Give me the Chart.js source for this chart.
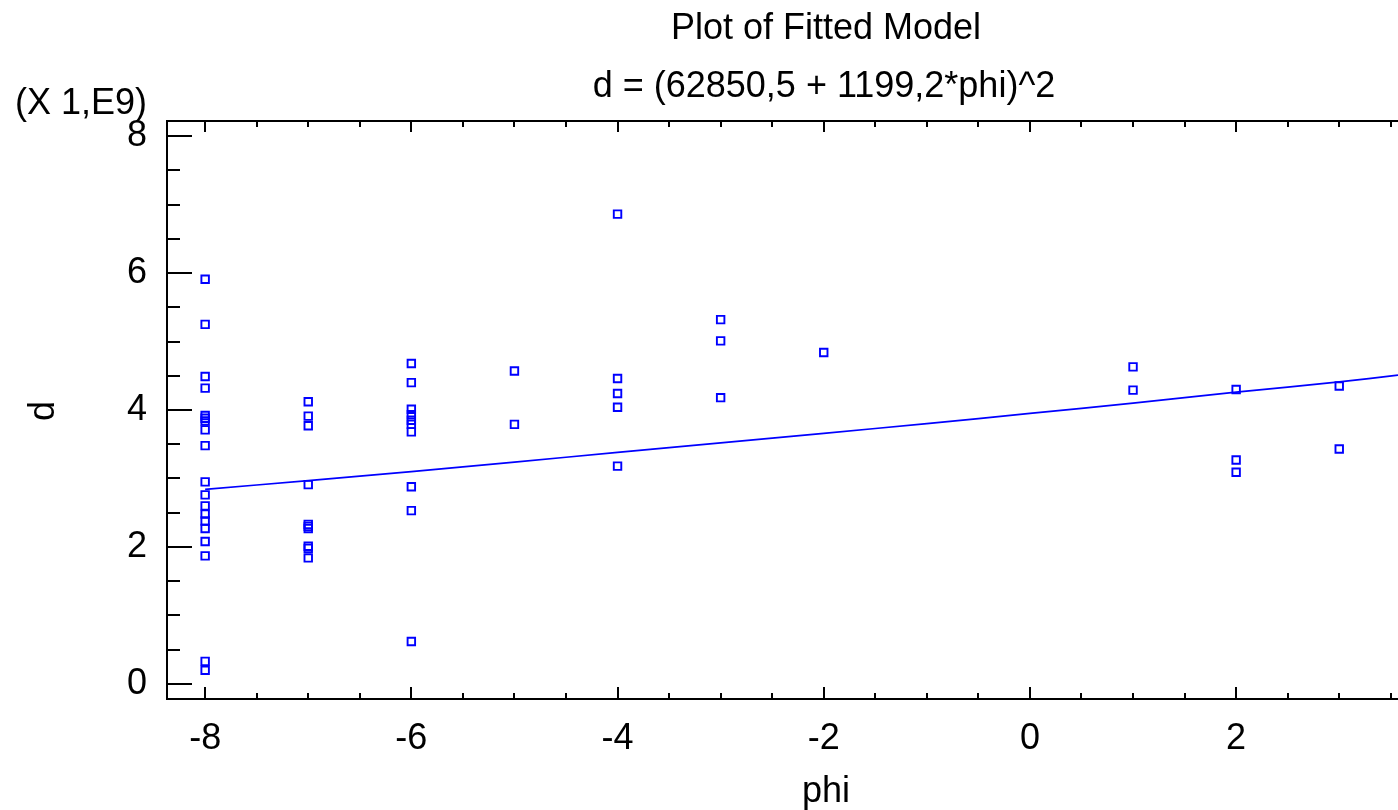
<!DOCTYPE html>
<html><head><meta charset="utf-8">
<script src="https://cdn.jsdelivr.net/npm/chart.js@4.4.0/dist/chart.umd.min.js"></script>
<style>html,body{margin:0;padding:0;background:#fff;overflow:hidden}#wrap{width:1398px;height:810px;position:relative}canvas{display:block}</style>
</head><body><div id="wrap"><canvas id="c" width="1398" height="810"></canvas></div>
<script>
const titleLines = ["Plot of Fitted Model", "d = (62850,5 + 1199,2*phi)^2"];
const xAxisTitle = "phi";
const yAxisTitle = "d";
const yScaleNote = "(X 1,E9)";
const xTickValues = [-8, -6, -4, -2, 0, 2];
const yTickValues = [0, 2, 4, 6, 8];

// observed points (d in units of 1E9)
const phiObs = [
  -8,-8,-8,-8,-8,-8,-8,-8,-8,-8,-8,-8,-8,-8,-8,-8,-8,-8,-8,
  -7,-7,-7,-7,-7,-7,-7,-7,-7,-7,
  -6,-6,-6,-6,-6,-6,-6,-6,-6,-6,
  -5,-5,
  -4,-4,-4,-4,-4,
  -3,-3,-3,
  -2,
  1,1,
  2,2,2,
  3,3
];
const dObs = [
  5.91,5.25,4.49,4.32,3.92,3.88,3.84,3.71,3.48,2.95,2.76,2.60,2.48,2.38,2.27,2.08,1.87,0.33,0.20,
  4.12,3.91,3.77,2.91,2.33,2.30,2.27,2.01,1.98,1.84,
  4.68,4.40,4.01,3.93,3.85,3.79,3.68,2.88,2.53,0.62,
  4.57,3.79,
  6.86,4.46,4.24,4.04,3.18,
  5.32,5.01,4.18,
  4.84,
  4.63,4.29,
  4.30,3.27,3.09,
  4.35,3.43
];
// fitted curve
const fitPhi = [-8, -7, -6, -5, -4, -3, -2, -1, 0, 1, 2, 3, 3.57];
const fitD   = [2.84, 2.97, 3.10, 3.24, 3.38, 3.52, 3.66, 3.80, 3.95, 4.10, 4.26, 4.41, 4.51];

const FONT = '"Liberation Sans", Arial, sans-serif';
const BLUE = '#0000ff';

const framePlugin = {
  id: 'frame',
  afterDraw(chart) {
    const ctx = chart.ctx;
    const a = chart.chartArea;
    const xs = chart.scales.x, ys = chart.scales.y;
    ctx.save();
    ctx.strokeStyle = '#000';
    ctx.lineWidth = 2;
    ctx.beginPath();
    ctx.moveTo(a.left, a.top); ctx.lineTo(a.left, a.bottom);
    ctx.moveTo(a.left - 1, a.bottom); ctx.lineTo(a.right, a.bottom);
    ctx.moveTo(a.left - 1, a.top); ctx.lineTo(a.right, a.top);
    for (let k = -16; k <= 7; k++) {
      const v = k / 2;
      const px = Math.round(xs.getPixelForValue(v));
      if (px < a.left || px > a.right) continue;
      const major = (k % 4 === 0);
      const lb = major ? 12 : 6;
      const lt = major ? 11 : 6;
      ctx.moveTo(px, a.bottom); ctx.lineTo(px, a.bottom - lb);
      ctx.moveTo(px, a.top); ctx.lineTo(px, a.top + lt);
    }
    for (let k = 0; k <= 16; k++) {
      const v = k / 2;
      const py = Math.round(ys.getPixelForValue(v));
      const major = (k % 4 === 0);
      const l = major ? 25 : 13;
      ctx.moveTo(a.left, py); ctx.lineTo(a.left + l, py);
    }
    ctx.stroke();

    ctx.fillStyle = '#000';
    ctx.font = '36px ' + FONT;
    ctx.textAlign = 'center';
    ctx.textBaseline = 'middle';
    ctx.fillText(titleLines[0], 826, 29);
    ctx.fillText(titleLines[1], 824, 87);
    ctx.fillText(xAxisTitle, 826, 792);
    ctx.textAlign = 'left';
    ctx.fillText(yScaleNote, 15, 104);
    ctx.save();
    ctx.translate(44, 411);
    ctx.rotate(-Math.PI / 2);
    ctx.textAlign = 'center';
    ctx.fillText(yAxisTitle, 0, 0);
    ctx.restore();
    ctx.restore();
  }
};

new Chart(document.getElementById('c'), {
  data: {
    datasets: [
      {
        type: 'scatter',
        label: 'observed',
        data: phiObs.map((p, i) => ({x: p, y: dObs[i]})),
        pointStyle: 'rect',
        pointRadius: 5.3,
        pointBorderWidth: 1.9,
        borderColor: BLUE,
        backgroundColor: 'rgba(0,0,0,0)',
        order: 1
      },
      {
        type: 'line',
        label: 'fitted',
        data: fitPhi.map((p, i) => ({x: p, y: fitD[i]})),
        borderColor: BLUE,
        borderWidth: 1.7,
        pointRadius: 0,
        fill: false,
        tension: 0.2,
        order: 2
      }
    ]
  },
  options: {
    responsive: false,
    animation: false,
    devicePixelRatio: 1,
    layout: {autoPadding: false, padding: {top: 121, right: 0, bottom: 0, left: 0}},
    plugins: {legend: {display: false}, tooltip: {enabled: false}, title: {display: false}},
    scales: {
      x: {
        type: 'linear', position: 'bottom',
        min: -8.37, max: 3.57,
        afterBuildTicks: s => { s.ticks = xTickValues.map(v => ({value: v})); },
        afterFit: s => { s.height = 111; s.paddingLeft = 0; s.paddingRight = 0; },
        grid: {display: false, drawTicks: false},
        border: {display: false},
        ticks: {color: '#000', font: {family: FONT, size: 36}, padding: 18, maxRotation: 0, autoSkip: false}
      },
      y: {
        type: 'linear', position: 'left',
        min: -0.22, max: 8.22,
        afterBuildTicks: s => { s.ticks = yTickValues.map(v => ({value: v})); },
        afterFit: s => { s.width = 167; },
        grid: {display: false, drawTicks: false},
        border: {display: false},
        ticks: {color: '#000', font: {family: FONT, size: 36}, padding: 20, autoSkip: false}
      }
    }
  },
  plugins: [framePlugin]
});
</script>
</body></html>
